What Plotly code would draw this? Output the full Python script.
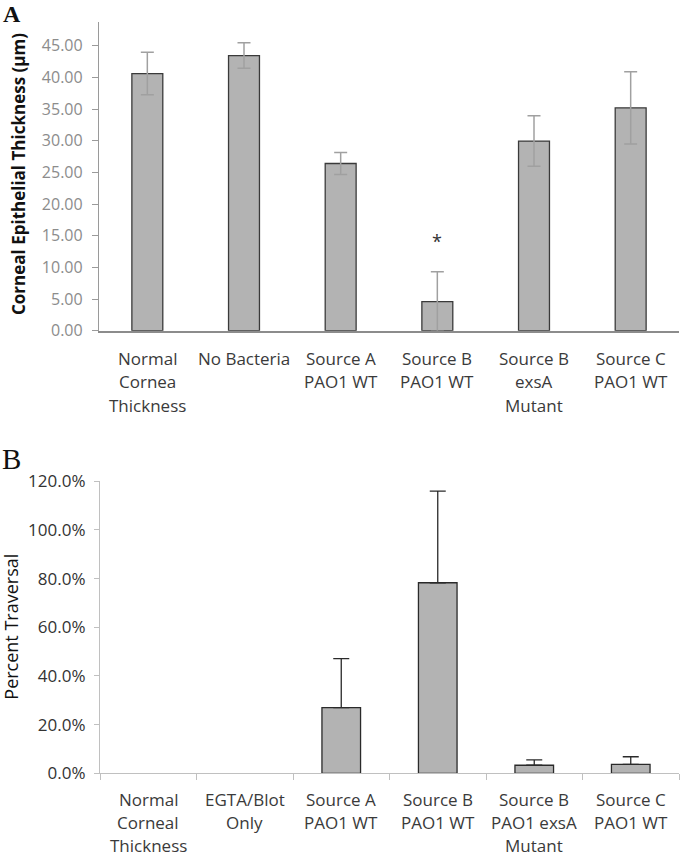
import plotly.graph_objects as go

# ---------------- data ----------------
cats_a = ["Normal\nCornea\nThickness", "No Bacteria", "Source A\nPAO1 WT",
          "Source B\nPAO1 WT", "Source B\nexsA\nMutant", "Source C\nPAO1 WT"]
thickness = [40.6, 43.45, 26.4, 4.6, 29.95, 35.2]
thickness_err = [3.35, 2.0, 1.75, 4.7, 4.0, 5.7]
star_a = "*"
star_a_y = 14.2
star_a_idx = 3

cats_b = ["Normal\nCorneal\nThickness", "EGTA/Blot\nOnly", "Source A\nPAO1 WT",
          "Source B\nPAO1 WT", "Source B\nPAO1 exsA\nMutant", "Source C\nPAO1 WT"]
traversal = [None, None, 27.0, 78.3, 3.3, 3.7]
traversal_err = [None, None, 20.1, 37.7, 2.2, 3.1]
star_b = "**"
star_b_y = 125.6
star_b_idx = 3

ticks_a = [0, 5, 10, 15, 20, 25, 30, 35, 40, 45]
ticks_a_text = ["0.00", "5.00", "10.00", "15.00", "20.00", "25.00", "30.00", "35.00", "40.00", "45.00"]
ticks_b = [0, 20, 40, 60, 80, 100, 120]
ticks_b_text = ["0.0%", "20.0%", "40.0%", "60.0%", "80.0%", "100.0%", "120.0%"]

# ---------------- layout helpers ----------------
W, H = 680, 856
L, R = 99, 1
PW = W - L - R
FONT = "Open Sans"


def px_x(p):
    return (p - L) / PW


def px_y(p):
    return 1 - p / H


xs = list(range(6))

fig = go.Figure()
fig.add_trace(go.Bar(
    x=xs, y=thickness, width=0.32, xaxis="x", yaxis="y",
    marker=dict(color="#b3b3b3", line=dict(color="#3a3a3a", width=1.3)),
    error_y=dict(type="data", array=thickness_err, symmetric=True,
                 color="#a0a0a0", thickness=1.5, width=6.5),
    showlegend=False))
fig.add_trace(go.Bar(
    x=xs, y=traversal, width=0.4, xaxis="x2", yaxis="y2",
    marker=dict(color="#b3b3b3", line=dict(color="#2a2a2a", width=1.3)),
    error_y=dict(type="data", array=traversal_err, symmetric=False,
                 arrayminus=[0] * 6, color="#2a2a2a", thickness=1.3, width=8),
    showlegend=False))

a_bottom, a_top = 330.7, 22.0
b_bottom, b_top = 773.3, 481.3

fig.update_layout(
    width=W, height=H,
    margin=dict(l=L, r=R, t=0, b=0, autoexpand=False),
    paper_bgcolor="white", plot_bgcolor="white",
    font=dict(family=FONT, color="#333333"),
    xaxis=dict(domain=[0, 1], range=[-0.5, 5.5], showticklabels=False, automargin=False,
               showline=True, linecolor="#8c8c8c", linewidth=1.5,
               ticks="", showgrid=False, zeroline=False, anchor="y"),
    yaxis=dict(domain=[px_y(a_bottom), px_y(a_top)], range=[0, (a_bottom - a_top) / 6.333],
               tickvals=ticks_a, ticktext=ticks_a_text, automargin=False,
               showline=True, linecolor="#9a9a9a",
               linewidth=1.3, ticks="outside", ticklen=6, tickcolor="#9a9a9a",
               ticklabelstandoff=6,
               tickfont=dict(size=16, color="#8c8c8c", family=FONT),
               showgrid=False, zeroline=False, anchor="x"),
    xaxis2=dict(domain=[px_x(100), 1], range=[-0.5, 5.5], automargin=False,
                tickvals=[i - 0.5 for i in range(7)], ticktext=[""] * 7,
                showline=True, linecolor="#c0c0c0", linewidth=1.3,
                ticks="outside", ticklen=6, tickcolor="#c0c0c0",
                showgrid=False, zeroline=False, anchor="y2"),
    yaxis2=dict(domain=[px_y(b_bottom), px_y(b_top)], range=[0, 120],
                tickvals=ticks_b, ticktext=ticks_b_text, automargin=False,
                showline=True, linecolor="#c0c0c0", linewidth=1.3,
                ticks="outside", ticklen=5, tickcolor="#c0c0c0",
                ticklabelstandoff=5,
                tickfont=dict(size=17, color="#333333", family=FONT),
                showgrid=False, zeroline=False, anchor="x2"),
)

ann = []
# category labels, line by line
for cats, xref, first, step in [(cats_a, "x", 358.3, 23.5), (cats_b, "x2", 799.0, 23.3)]:
    for i, c in enumerate(cats):
        for j, line in enumerate(c.split("\n")):
            ann.append(dict(x=i, xref=xref, y=px_y(first + j * step), yref="paper",
                            text=line, showarrow=False, xanchor="center", yanchor="middle",
                            font=dict(size=17, color="#3a3a3a", family=FONT)))

# significance markers
ann.append(dict(x=star_a_idx, xref="x", y=star_a_y, yref="y", text=star_a, showarrow=False,
                xanchor="center", yanchor="middle", font=dict(size=18, color="#333333", family=FONT)))
ann.append(dict(x=star_b_idx, xref="x2", y=star_b_y, yref="y2", text=star_b, showarrow=False,
                xanchor="center", yanchor="middle", font=dict(size=18, color="#333333", family=FONT)))

# axis titles
ann.append(dict(x=px_x(18), xref="paper", y=px_y(174), yref="paper",
                text="<b>Corneal Epithelial Thickness (µm)</b>", textangle=-90,
                showarrow=False, xanchor="center", yanchor="middle",
                font=dict(size=17, color="#111111", family=FONT)))
ann.append(dict(x=px_x(11), xref="paper", y=px_y(626.7), yref="paper",
                text="Percent Traversal", textangle=-90,
                showarrow=False, xanchor="center", yanchor="middle",
                font=dict(size=18, color="#111111", family=FONT)))

# panel letters
ann.append(dict(x=px_x(1), xref="paper", y=px_y(14), yref="paper", text="<b>A</b>",
                showarrow=False, xanchor="left", yanchor="middle",
                font=dict(size=24, color="#111111", family="Liberation Serif")))
ann.append(dict(x=px_x(0), xref="paper", y=px_y(459), yref="paper", text="B",
                showarrow=False, xanchor="left", yanchor="middle",
                font=dict(size=29, color="#111111", family="Liberation Serif")))

fig.update_layout(annotations=ann)
fig.write_html("out.html",
               config={"displayModeBar": False},
               post_script="document.body.style.margin='0';document.body.style.padding='0';"
                           "document.body.style.overflow='hidden';")
